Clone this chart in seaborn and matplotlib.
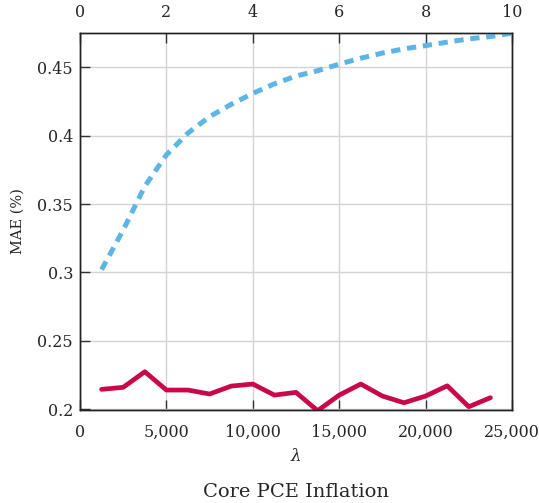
import numpy as np
import matplotlib
matplotlib.use("Agg")
import matplotlib.pyplot as plt
import matplotlib.ticker as mticker
import seaborn as sns

# bottom axis: lambda grid, core PCE MAE
lam = [1250, 2500, 3750, 5000, 6250, 7500, 8750, 10000, 11250, 12500,
       13750, 15000, 16250, 17500, 18750, 20000, 21250, 22500, 23750]
mae_lam = [0.2144, 0.2159, 0.2273, 0.2139, 0.2139, 0.2110, 0.2168, 0.2183, 0.2102, 0.2122,
           0.1988, 0.2102, 0.2183, 0.2095, 0.2046, 0.2095, 0.2170, 0.2017, 0.2083]

# top axis: second parameter, 0 to 10
k = [0.5, 1.0, 1.5, 2.0, 2.5, 3.0, 3.5, 4.0, 4.5, 5.0,
     5.5, 6.0, 6.5, 7.0, 7.5, 8.0, 8.5, 9.0, 9.5, 10.0]
mae_k = [0.302, 0.331, 0.363, 0.386, 0.402, 0.414, 0.423, 0.431, 0.438, 0.4437,
         0.4476, 0.4524, 0.4568, 0.4605, 0.4636, 0.466, 0.4685, 0.4709, 0.4726, 0.4751]

sns.set_style("whitegrid")
plt.rcParams['font.family'] = ['DejaVu Serif']
plt.rcParams['mathtext.fontset'] = 'dejavuserif'

fig = plt.figure(figsize=(5.39, 5.03), dpi=100)
ax = fig.add_axes([80/539, 1-410/503, 432/539, 377/503])

sns.lineplot(x=lam, y=mae_lam, ax=ax, color='#C8084A', linewidth=3.4)
ax.set_xlim(0, 25000)
ax.set_ylim(0.1993, 0.4752)
ax.set_yticks([0.2, 0.25, 0.3, 0.35, 0.4, 0.45])
ax.yaxis.set_major_formatter(mticker.FuncFormatter(lambda v, p: f'{v:g}'))
ax.set_xticks([0, 5000, 10000, 15000, 20000, 25000])
ax.xaxis.set_major_formatter(mticker.FuncFormatter(lambda v, p: f'{int(v):,}'))
ax.grid(True, color='#d4d4d4', linewidth=1.0)
ax.set_ylabel('MAE (%)', fontsize=10.5, labelpad=9)
ax.set_xlabel(r'$\lambda$', fontsize=12, labelpad=5)
ax.tick_params(axis='y', direction='in', length=7, width=1, color='#333333',
               labelsize=11.5, pad=5, left=True)
ax.tick_params(axis='x', direction='in', length=7, width=1, color='#333333',
               labelsize=11.5, pad=10, bottom=True)

ax2 = ax.twiny()
sns.lineplot(x=k, y=mae_k, ax=ax2, color='#5DB5E6', linewidth=3.6,
             linestyle=(0, (1.85, 1.35)))
ax2.set_xlim(0, 10)
ax2.set_xticks([0, 2, 4, 6, 8, 10])
ax2.grid(False)
ax2.tick_params(axis='x', direction='in', length=7, width=1, color='#333333',
                labelsize=11.5, pad=9, top=True)

for a in (ax, ax2):
    for s in a.spines.values():
        s.set_color('#222222')
        s.set_linewidth(1.0)

fig.text(296/539, 1-492/503, 'Core PCE Inflation', ha='center', va='center', fontsize=14)

fig.savefig('out.png', dpi=100)
